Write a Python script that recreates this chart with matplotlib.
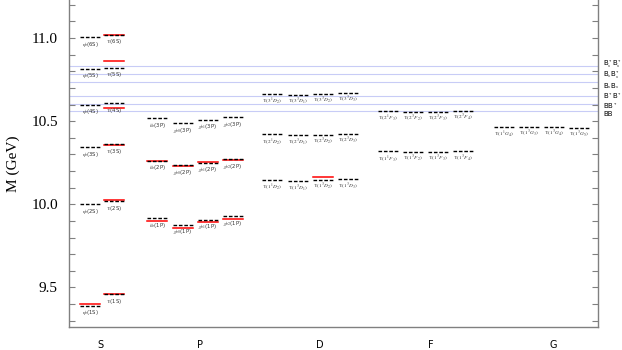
import numpy as np
import matplotlib
matplotlib.use("Agg")
from matplotlib import pyplot as plt

plt.rcParams['mathtext.fontset'] = 'stix'

# ---- data (GeV) ----
# S wave: model (black dashed) and experiment (red)
eta_b_model = [9.390, 10.002, 10.345, 10.600, 10.816, 11.007]
ups_model = [9.461, 10.020, 10.362, 10.609, 10.822, 11.021]
eta_b_exp = [9.399]
ups_exp = [9.460, 10.023, 10.355, 10.579, 10.865, 11.019]

# P wave, n = 1, 2, 3
hb_model = [9.915, 10.262, 10.517]
chib0_model = [9.877, 10.236, 10.487]
chib1_model = [9.907, 10.250, 10.509]
chib2_model = [9.927, 10.272, 10.525]
hb_exp = [9.899, 10.260]
chib0_exp = [9.859, 10.233]
chib1_exp = [9.893, 10.255]
chib2_exp = [9.912, 10.269]

# D wave, n = 1, 2, 3
d_1D2 = [10.148, 10.420, 10.665]
d_3D1 = [10.138, 10.414, 10.660]
d_3D2 = [10.145, 10.419, 10.664]
d_3D3 = [10.150, 10.424, 10.670]
d_3D2_exp = [10.164]

# F wave, n = 1, 2
f_1F3 = [10.318, 10.560]
f_3F2 = [10.315, 10.556]
f_3F3 = [10.317, 10.558]
f_3F4 = [10.319, 10.560]

# G wave, n = 1
g_1G4 = [10.466]
g_3G3 = [10.464]
g_3G4 = [10.465]
g_3G5 = [10.462]

# open-bottom thresholds
thr_names = [r'B$_s^*$B$_s^*$', r'B$_s$B$_s^*$', r'B$_s$B$_s$', r'B$^*$B$^*$', r'BB$^*$', 'BB']
thr_mass = [10.831, 10.782, 10.733, 10.650, 10.604, 10.559]

waves = ['S', 'P', 'D', 'F', 'G']

# ---- layout ----
HALF = 10
S_X = [21, 45]
P_X = [88, 114, 139, 164]
D_X = [203, 229, 254, 279]
F_X = [319, 344, 369, 394]
G_X = [435, 460, 485, 510]
WAVE_X = [31, 131, 251, 362, 484]

fig = plt.figure(figsize=(6.22, 3.5), dpi=100)
ax = fig.add_axes([69 / 622, 23 / 350, 529 / 622, 327 / 350])


def levels(x, model, exp, labels):
    for m in exp:
        ax.plot([x - HALF, x + HALF], [m, m], color='red', lw=1.1, zorder=2)
    for m, lab in zip(model, labels):
        ax.plot([x - HALF, x + HALF], [m, m], color='black', lw=1.0,
                dashes=(2.6, 1.3), zorder=3)
        ax.annotate(lab, (x, m), xytext=(0, -5.2), textcoords='offset points',
                    ha='center', va='center', fontsize=3.8, color='#333333')


levels(S_X[0], eta_b_model, eta_b_exp, [r'$\eta_b$(%dS)' % (i + 1) for i in range(6)])
levels(S_X[1], ups_model, ups_exp, [r'$\Upsilon$(%dS)' % (i + 1) for i in range(6)])

levels(P_X[0], hb_model, hb_exp, [r'$h_b$(%dP)' % (i + 1) for i in range(3)])
levels(P_X[1], chib0_model, chib0_exp, [r'$\chi_{b0}$(%dP)' % (i + 1) for i in range(3)])
levels(P_X[2], chib1_model, chib1_exp, [r'$\chi_{b1}$(%dP)' % (i + 1) for i in range(3)])
levels(P_X[3], chib2_model, chib2_exp, [r'$\chi_{b2}$(%dP)' % (i + 1) for i in range(3)])

for x, vals, exp, st in zip(D_X, [d_1D2, d_3D1, d_3D2, d_3D3], [[], [], d_3D2_exp, []],
                            ['^1D_2', '^3D_1', '^3D_2', '^3D_3']):
    levels(x, vals, exp, [r'$\Upsilon(%d\,%s)$' % (i + 1, st) for i in range(3)])

for x, vals, st in zip(F_X, [f_1F3, f_3F2, f_3F3, f_3F4], ['^1F_3', '^3F_2', '^3F_3', '^3F_4']):
    levels(x, vals, [], [r'$\Upsilon(%d\,%s)$' % (i + 1, st) for i in range(2)])

for x, vals, st in zip(G_X, [g_1G4, g_3G3, g_3G4, g_3G5], ['^1G_4', '^3G_3', '^3G_4', '^3G_5']):
    levels(x, vals, [], [r'$\Upsilon(%d\,%s)$' % (i + 1, st) for i in range(1)])

# thresholds
nudge = [0.014, -0.004, -0.022, 0.0, -0.013, -0.018]
for name, m, dy in zip(thr_names, thr_mass, nudge):
    ax.axhline(m, color='#c8ccf6', lw=0.8, zorder=1)
    ax.text(534, m + dy, name, fontsize=5, ha='left', va='center',
            family='DejaVu Sans', clip_on=False)

ax.set_xlim(0, 529)
ax.set_ylim(9.262, 11.229)

ax.set_xticks(WAVE_X)
ax.set_xticklabels(waves, family='DejaVu Sans', fontsize=7)
ax.tick_params(axis='x', length=0, pad=9)

ax.set_yticks([9.5, 10.0, 10.5, 11.0])
ax.set_yticks(np.arange(9.3, 11.25, 0.1), minor=True)
ax.set_yticklabels(['9.5', '10.0', '10.5', '11.0'], family='Liberation Serif', fontsize=11)
ax.tick_params(axis='y', which='both', direction='in', left=True, right=True,
               length=4, width=0.8, color='#808080', pad=8)

for s in ['left', 'right', 'bottom']:
    ax.spines[s].set_color('#808080')
    ax.spines[s].set_linewidth(1.0)
ax.spines['top'].set_visible(False)

ax.set_ylabel('M (GeV)', family='Liberation Serif', fontsize=11, labelpad=8)

plt.savefig('out.png', dpi=100)
